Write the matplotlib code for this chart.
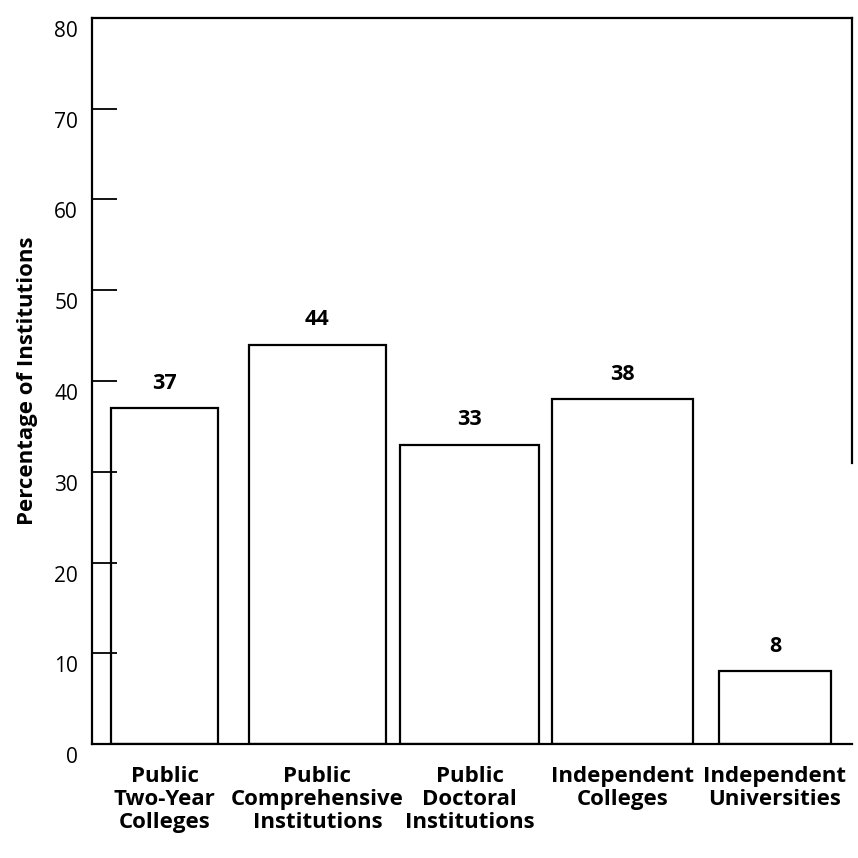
import matplotlib
matplotlib.use("Agg")
import matplotlib.pyplot as plt
from matplotlib.transforms import ScaledTranslation

# datos del grafico
categorias = ["Public\nTwo-Year\nColleges", "Public\nComprehensive\nInstitutions",
              "Public\nDoctoral\nInstitutions", "Independent\nColleges",
              "Independent\nUniversities"]
valores = [37, 44, 33, 38, 8]
yticks = [0, 10, 20, 30, 40, 50, 60, 70, 80]

plt.rcParams['font.family'] = ['Open Sans', 'DejaVu Sans']

fig = plt.figure(figsize=(8.58, 8.58), dpi=100)
ax = fig.add_axes([92 / 858, 1 - 744 / 858, 760 / 858, 726 / 858])

x = list(range(len(valores)))
anchos = [0.70, 0.90, 0.91, 0.92, 0.73]
ax.bar(x, valores, width=anchos, color='white', edgecolor='black', linewidth=1.6)

for xi, v in zip(x, valores):
    ax.text(xi, v + 1.6, str(v), ha='center', va='bottom', fontsize=15.5, fontweight='bold')

ax.set_xlim(-0.477, 4.505)
ax.set_ylim(0, 80)
ax.set_yticks(yticks)
ax.set_yticklabels([str(t) for t in yticks], fontsize=15)
ax.tick_params(axis='y', direction='in', length=18, width=1.3, pad=10)
ax.yaxis.get_major_ticks()[0].tick1line.set_visible(False)
ax.yaxis.get_major_ticks()[-1].tick1line.set_visible(False)
# las etiquetas del eje y quedan un poco por debajo de las marcas
desplazar = ScaledTranslation(0, -0.11, fig.dpi_scale_trans)
for lbl in ax.get_yticklabels():
    lbl.set_transform(lbl.get_transform() + desplazar)

ax.set_xticks(x)
ax.set_xticklabels(categorias, fontsize=16, fontweight='bold', linespacing=1.12)
ax.tick_params(axis='x', length=0, pad=16)

for s in ax.spines.values():
    s.set_linewidth(1.6)
ax.spines['right'].set_bounds(31, 80)

ax.set_ylabel("Percentage of Institutions", fontsize=16, fontweight='bold', labelpad=12)

fig.savefig("out.png", dpi=100)
